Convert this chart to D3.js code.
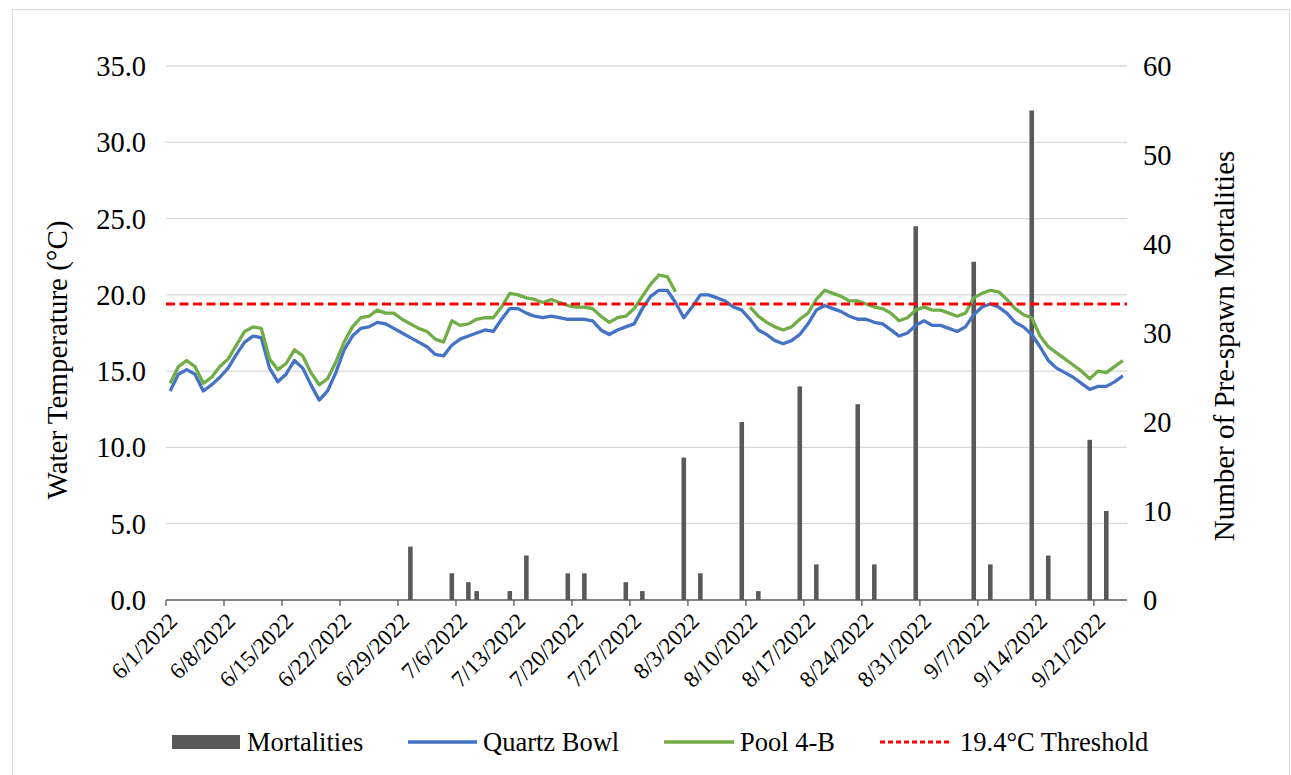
<!DOCTYPE html>
<html>
<head>
<meta charset="utf-8">
<script src="https://cdn.jsdelivr.net/npm/d3@7"></script>
<style>
  body { margin: 0; background: #fff; }
  svg text { font-family: "Liberation Serif", "Tinos", "DejaVu Serif", serif; fill: #000; }
</style>
</head>
<body>
<script>
// categories: one slot per day, 6/1/2022 .. 9/24/2022
let days = d3.timeDay.range(new Date(2022, 5, 1), new Date(2022, 8, 25));

// Quartz Bowl water temperature (°C), one value per day
let quartzBowl = [
  13.7, 14.8, 15.1, 14.8, 13.7, 14.1, 14.6, 15.2, 16.1, 16.9,
  17.3, 17.2, 15.2, 14.3, 14.8, 15.7, 15.2, 14.1, 13.1, 13.7,
  14.9, 16.4, 17.3, 17.8, 17.9, 18.2, 18.1, 17.8, 17.5, 17.2,
  16.9, 16.6, 16.1, 16.0, 16.7, 17.1, 17.3, 17.5, 17.7, 17.6,
  18.4, 19.1, 19.1, 18.8, 18.6, 18.5, 18.6, 18.5, 18.4, 18.4,
  18.4, 18.3, 17.7, 17.4, 17.7, 17.9, 18.1, 19.1, 19.9, 20.3,
  20.3, 19.5, 18.5, 19.2, 20.0, 20.0, 19.8, 19.6, 19.2, 19.0,
  18.4, 17.7, 17.4, 17.0, 16.8, 17.0, 17.4, 18.1, 19.0, 19.3,
  19.1, 18.9, 18.6, 18.4, 18.4, 18.2, 18.1, 17.7, 17.3, 17.5,
  18.0, 18.3, 18.0, 18.0, 17.8, 17.6, 17.9, 18.7, 19.2, 19.4,
  19.2, 18.8, 18.2, 17.9, 17.4, 16.6, 15.7, 15.2, 14.9, 14.6,
  14.2, 13.8, 14.0, 14.0, 14.3, 14.7
];

// Pool 4-B water temperature (°C), gap where no readings were logged
let pool4B = [
  14.2, 15.3, 15.7, 15.3, 14.2, 14.6, 15.3, 15.8, 16.7, 17.6,
  17.9, 17.8, 15.8, 15.1, 15.5, 16.4, 16.0, 14.9, 14.1, 14.5,
  15.6, 16.9, 17.9, 18.5, 18.6, 19.0, 18.8, 18.8, 18.4, 18.1,
  17.8, 17.6, 17.1, 16.9, 18.3, 18.0, 18.1, 18.4, 18.5, 18.5,
  19.2, 20.1, 20.0, 19.8, 19.7, 19.5, 19.7, 19.5, 19.3, 19.2,
  19.2, 19.1, 18.6, 18.2, 18.5, 18.6, 19.1, 19.9, 20.7, 21.3,
  21.2, 20.2, null, null, null, null, null, null, null, null,
  19.2, 18.6, 18.2, 17.9, 17.7, 17.9, 18.4, 18.8, 19.7, 20.3,
  20.1, 19.9, 19.6, 19.6, 19.4, 19.2, 19.1, 18.8, 18.3, 18.5,
  19.0, 19.2, 19.0, 19.0, 18.8, 18.6, 18.8, 19.8, 20.1, 20.3,
  20.2, 19.7, 19.1, 18.7, 18.5, 17.3, 16.6, 16.2, 15.8, 15.4,
  15.0, 14.5, 15.0, 14.9, 15.3, 15.7
];

// pre-spawn mortalities (right axis)
let mortDates = ["6/30", "7/5", "7/7", "7/8", "7/12", "7/14", "7/19", "7/21", "7/26", "7/28",
  "8/2", "8/4", "8/9", "8/11", "8/16", "8/18", "8/23", "8/25", "8/30",
  "9/6", "9/8", "9/13", "9/15", "9/20", "9/22"];
let mortCounts = [6, 3, 2, 1, 1, 5, 3, 3, 2, 1,
  16, 3, 20, 1, 24, 4, 22, 4, 42,
  38, 4, 55, 5, 18, 10];

let threshold = 19.4;
let tempTicks = [0, 5, 10, 15, 20, 25, 30, 35];
let mortTicks = [0, 10, 20, 30, 40, 50, 60];

let width = 1291, height = 775;
let pLeft = 166, pRight = 1127, pTop = 66, pBottom = 600;

let fmt = d3.timeFormat("%-m/%-d/%Y");

let svg = d3.select("body").append("svg")
  .attr("width", width).attr("height", height)
  .attr("font-family", "'Liberation Serif', Tinos, 'DejaVu Serif', serif");

svg.append("rect")
  .attr("x", 12.5).attr("y", 9.5)
  .attr("width", 1277).attr("height", 790)
  .style("fill", "#fff").style("stroke", "#d9d9d9");

let x = d3.scaleBand()
  .domain(days.map(fmt))
  .range([pLeft, pRight])
  .paddingInner(0.45).paddingOuter(0.225);
let xc = d => x(d) + x.bandwidth() / 2;
let xEdge = d => x(d) - x.step() * 0.225;

let yT = d3.scaleLinear().domain([0, 35]).range([pBottom, pTop]);
let yM = d3.scaleLinear().domain([0, 60]).range([pBottom, pTop]);

// gridlines
svg.append("g")
  .selectAll("line")
  .data(tempTicks.filter(t => t > 0))
  .enter().append("line")
  .attr("x1", pLeft).attr("x2", pRight)
  .attr("y1", d => yT(d)).attr("y2", d => yT(d))
  .style("stroke", "#d9d9d9").style("stroke-width", 1.3);

// mortality bars
svg.append("g")
  .selectAll("rect")
  .data(mortDates.map((d, i) => ({ d: d + "/2022", v: mortCounts[i] })))
  .enter().append("rect")
  .attr("x", d => x(d.d))
  .attr("width", x.bandwidth())
  .attr("y", d => yM(d.v))
  .attr("height", d => yM(0) - yM(d.v))
  .style("fill", "#595959");

// temperature lines
let line = d3.line()
  .defined(d => d.v != null)
  .x(d => xc(d.d))
  .y(d => yT(d.v));

svg.append("path")
  .datum(days.map((d, i) => ({ d: fmt(d), v: quartzBowl[i] })))
  .attr("d", line)
  .style("fill", "none").style("stroke", "#4472c4")
  .style("stroke-width", 3.3).style("stroke-linejoin", "round");

svg.append("path")
  .datum(days.map((d, i) => ({ d: fmt(d), v: pool4B[i] })))
  .attr("d", line)
  .style("fill", "none").style("stroke", "#70ad47")
  .style("stroke-width", 3.3).style("stroke-linejoin", "round");

svg.append("line")
  .attr("x1", pLeft).attr("x2", pRight)
  .attr("y1", yT(threshold)).attr("y2", yT(threshold))
  .style("stroke", "#ff0000").style("stroke-width", 3)
  .style("stroke-dasharray", "9,4.5");

// x axis, tick every 7 days
let weekly = days.filter((d, i) => i % 7 == 0).map(fmt);
let xAxis = svg.append("g")
  .attr("transform", "translate(0," + pBottom + ")");
xAxis.append("line")
  .attr("x1", pLeft).attr("x2", pRight)
  .style("stroke", "#595959").style("stroke-width", 1.3);
xAxis.selectAll(".tk")
  .data(weekly)
  .enter().append("line")
  .attr("x1", d => xEdge(d)).attr("x2", d => xEdge(d))
  .attr("y1", 0).attr("y2", 6)
  .style("stroke", "#595959").style("stroke-width", 1.3);
xAxis.selectAll("text")
  .data(weekly)
  .enter().append("text")
  .attr("transform", d => "translate(" + (xEdge(d) + 7) + ",17) rotate(-45)")
  .attr("text-anchor", "end")
  .attr("dy", "0.35em")
  .style("font-size", "23px")
  .text(d => d);

// left axis labels
svg.append("g")
  .selectAll("text")
  .data(tempTicks)
  .enter().append("text")
  .attr("x", 146).attr("y", d => yT(d))
  .attr("dy", "0.35em")
  .attr("text-anchor", "end")
  .style("font-size", "28.5px")
  .text(d => d3.format(".1f")(d));

// right axis labels
svg.append("g")
  .selectAll("text")
  .data(mortTicks)
  .enter().append("text")
  .attr("x", 1143).attr("y", d => yM(d))
  .attr("dy", "0.35em")
  .style("font-size", "28.5px")
  .text(d => d);

svg.append("text")
  .attr("transform", "translate(67,360) rotate(-90)")
  .attr("text-anchor", "middle")
  .style("font-size", "29px")
  .text("Water Temperature (°C)");

svg.append("text")
  .attr("transform", "translate(1234,346) rotate(-90)")
  .attr("text-anchor", "middle")
  .style("font-size", "29px")
  .text("Number of Pre-spawn Mortalities");

// legend
let ly = 742;
let legend = svg.append("g").style("font-size", "26.5px");
legend.append("rect").attr("x", 172).attr("y", ly - 7).attr("width", 68).attr("height", 14)
  .style("fill", "#595959");
legend.append("text").attr("x", 247).attr("y", ly).attr("dy", "0.35em").text("Mortalities");
legend.append("line").attr("x1", 408).attr("x2", 477).attr("y1", ly).attr("y2", ly)
  .style("stroke", "#4472c4").style("stroke-width", 3.3);
legend.append("text").attr("x", 483).attr("y", ly).attr("dy", "0.35em").text("Quartz Bowl");
legend.append("line").attr("x1", 664).attr("x2", 734).attr("y1", ly).attr("y2", ly)
  .style("stroke", "#70ad47").style("stroke-width", 3.3);
legend.append("text").attr("x", 740).attr("y", ly).attr("dy", "0.35em").text("Pool 4-B");
legend.append("line").attr("x1", 880).attr("x2", 952).attr("y1", ly).attr("y2", ly)
  .style("stroke", "#ff0000").style("stroke-width", 3).style("stroke-dasharray", "5,3");
legend.append("text").attr("x", 960).attr("y", ly).attr("dy", "0.35em").text("19.4°C Threshold");
</script>
</body>
</html>
